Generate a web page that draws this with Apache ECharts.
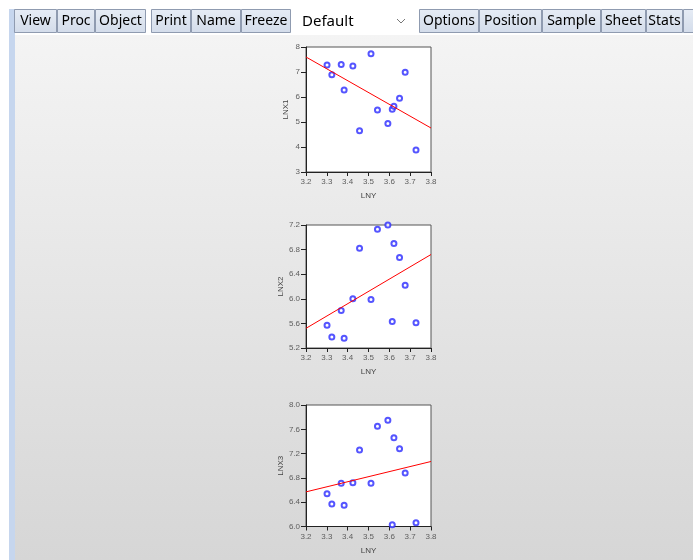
<!DOCTYPE html>
<html>
<head>
<meta charset="utf-8">
<title>LNY scatter</title>
<script src="https://cdn.jsdelivr.net/npm/echarts@6/dist/echarts.min.js"></script>
<style>
  html, body { margin: 0; padding: 0; }
  body { width: 693px; height: 560px; overflow: hidden; background: #fff; position: relative; }
  /* window area below the toolbar */
  .pane {
    position: absolute; left: 15px; top: 35px; width: 678px; height: 525px;
    background: linear-gradient(#f4f4f4, #d6d6d6);
  }
  .strip { position: absolute; left: 9px; top: 9px; width: 6px; height: 551px; background: #c6d6ee; }
  #main { position: absolute; left: 0; top: 0; width: 693px; height: 560px; }
</style>
</head>
<body>
<div class="pane"></div>
<div class="strip"></div>
<div id="main"></div>
<script>
const lny  = [3.301, 3.324, 3.369, 3.383, 3.425, 3.457, 3.512, 3.543, 3.593, 3.614, 3.622, 3.649, 3.676, 3.728];
const lnx1 = [7.28, 6.89, 7.30, 6.28, 7.24, 4.65, 7.73, 5.48, 4.94, 5.51, 5.63, 5.95, 6.99, 3.88];
const lnx2 = [5.57, 5.38, 5.81, 5.36, 6.00, 6.82, 5.99, 7.13, 7.20, 5.63, 6.90, 6.67, 6.22, 5.61];
const lnx3 = [6.54, 6.37, 6.71, 6.35, 6.72, 7.26, 6.71, 7.65, 7.75, 6.03, 7.46, 7.28, 6.88, 6.06];

// fitted line ends at x = 3.2 and 3.8
const fitX  = [3.2, 3.8];
const fit1  = [7.60, 4.76];
const fit2  = [5.52, 6.72];
const fit3  = [6.57, 7.07];

const yNames = ["LNX1", "LNX2", "LNX3"];
const yMin = [3, 5.2, 6.0];
const yMax = [8, 7.2, 8.0];
const yStep = [1, 0.4, 0.4];
const yDigits = [0, 1, 1];

// toolbar
const leftButtons  = [["View", 14, 57], ["Proc", 57, 95], ["Object", 95, 146],
                      ["Print", 151, 191], ["Name", 191, 241], ["Freeze", 241, 291]];
const rightButtons = [["Options", 419, 479], ["Position", 479, 542], ["Sample", 542, 601],
                      ["Sheet", 601, 646], ["Stats", 646, 683], ["S", 683, 710]];

const chart = echarts.init(document.getElementById("main"));

const gridPos = [
  { left: 306, top: 47, width: 125, height: 125 },
  { left: 306, top: 225, width: 125, height: 123 },
  { left: 306, top: 405, width: 125, height: 121.5 },
];

const tickFont = { fontSize: 8, color: "#5e5e5e", fontFamily: "Liberation Sans" };
const nameFont = { fontSize: 8, color: "#444", fontFamily: "Liberation Sans" };

function button(label, x0, x1) {
  return {
    type: "group",
    children: [
      {
        type: "rect",
        shape: { x: x0 + 0.5, y: 9.5, width: x1 - x0 - 1, height: 23 },
        style: {
          fill: new echarts.graphic.LinearGradient(0, 0, 0, 1, [
            { offset: 0, color: "#e6ecf5" },
            { offset: 1, color: "#d3dcea" },
          ]),
          stroke: "#8f9bb0",
          lineWidth: 1,
        },
      },
      {
        type: "text",
        x: (x0 + x1) / 2,
        y: 21.5,
        style: {
          text: label, fill: "#000", font: "14px 'Noto Sans'",
          align: "center", verticalAlign: "middle",
        },
      },
    ],
  };
}

const graphics = [];
leftButtons.forEach((b) => graphics.push(button(b[0], b[1], b[2])));
rightButtons.forEach((b) => graphics.push(button(b[0], b[1], b[2])));
// sample drop-down
graphics.push({
  type: "rect",
  shape: { x: 296, y: 9, width: 117, height: 24 },
  style: { fill: "#fff", stroke: "#fff" },
});
graphics.push({
  type: "text", x: 302, y: 21.5,
  style: { text: "Default", fill: "#000", font: "15px 'Noto Sans'", verticalAlign: "middle" },
});
graphics.push({
  type: "polyline",
  shape: { points: [[397, 19], [401, 23], [405, 19]] },
  style: { stroke: "#777", fill: null, lineWidth: 1 },
});

const grids = [], xAxes = [], yAxes = [], series = [];
const ys = [lnx1, lnx2, lnx3];
const fits = [fit1, fit2, fit3];

for (let i = 0; i < 3; i++) {
  grids.push(Object.assign({
    show: true, backgroundColor: "#fff", borderColor: "#555", borderWidth: 1,
  }, gridPos[i]));
  xAxes.push({
    gridIndex: i, type: "value", min: 3.2, max: 3.8, interval: 0.1,
    name: "LNY", nameLocation: "middle", nameGap: 20,
    nameTextStyle: nameFont,
    axisLine: { lineStyle: { color: "#222" } },
    axisTick: { length: 4, lineStyle: { color: "#222" } },
    axisLabel: Object.assign({ margin: 6, formatter: (v) => v.toFixed(1) }, tickFont),
    splitLine: { show: false },
  });
  yAxes.push({
    gridIndex: i, type: "value", min: yMin[i], max: yMax[i], interval: yStep[i],
    name: yNames[i], nameLocation: "middle", nameGap: 16,
    nameTextStyle: nameFont,
    axisLine: { lineStyle: { color: "#222" } },
    axisTick: { length: 5, lineStyle: { color: "#222" } },
    axisLabel: Object.assign({ margin: 6, formatter: (v) => v.toFixed(yDigits[i]) }, tickFont),
    splitLine: { show: false },
  });
  series.push({
    type: "scatter", xAxisIndex: i, yAxisIndex: i,
    symbol: "emptyCircle", symbolSize: 5,
    itemStyle: { color: "#2a2aff", borderColor: "#2a2aff", borderWidth: 0.8 },
    data: lny.map((x, k) => [x, ys[i][k]]),
  });
  series.push({
    type: "line", xAxisIndex: i, yAxisIndex: i,
    showSymbol: false, symbol: "none", silent: true,
    lineStyle: { color: "#ff0000", width: 1 },
    data: fitX.map((x, k) => [x, fits[i][k]]),
  });
}

chart.setOption({
  animation: false,
  backgroundColor: "transparent",
  grid: grids,
  xAxis: xAxes,
  yAxis: yAxes,
  series: series,
  graphic: graphics,
});
</script>
</body>
</html>
